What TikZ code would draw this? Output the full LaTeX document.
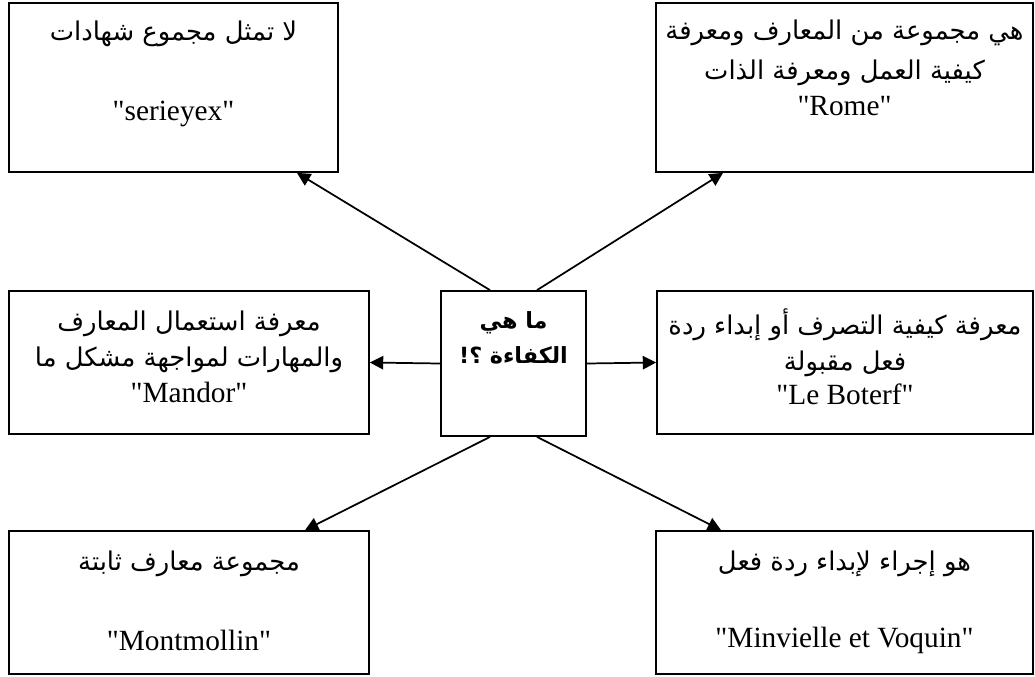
\documentclass[tikz,border=0pt]{standalone}
\usepackage{fontspec}
\newfontfamily\latinfont{Liberation Serif}
\newfontfamily\arabicfont[Script=Arabic,Scale=0.88]{DejaVu Sans}
\TeXXeTstate=1
\usetikzlibrary{positioning,arrows.meta}
\newcommand{\ar}[1]{{\arabicfont\beginR #1\endR}}

\begin{document}
\begin{tikzpicture}[x=0.75pt, y=-0.75pt,
                    box/.style 2 args={draw, line width=1.3pt, minimum width=#1, minimum height=#2, inner sep=0pt},
                    txt/.style={anchor=north, align=center, inner sep=0pt, font=\latinfont\fontsize{22}{27}\selectfont},
                    link/.style={line width=1.3pt, -{Triangle[length=10pt, width=10pt]}},
                ]
                \useasboundingbox (0,0) rectangle (1035,676);
                \node[box={108.75pt}{108.75pt}] (kifaya) at (513.5,363.5) {};
                \node[box={246.75pt}{126.75pt}] (serieyex) at (173.5,87.5) {};
                \node[box={282.75pt}{126.75pt}] (rome) at (844.5,87.5) {};
                \node[box={270pt}{107.25pt}] (mandor) at (189,362.5) {};
                \node[box={282pt}{107.25pt}] (boterf) at (845,362.5) {};
                \node[box={270pt}{107.25pt}] (montmollin) at (189,602.5) {};
                \node[box={282.75pt}{107.25pt}] (minvielle) at (844.5,602.5) {};
                \node[txt, font=\fontsize{19}{26}\selectfont\bfseries] (kifaya-t) at ([yshift=-16pt]kifaya.north) {\ar{ما هي}\\ \ar{الكفاءة ؟!}};
                \node[txt] (serieyex-t) at ([yshift=-14pt]serieyex.north) {\ar{لا تمثل مجموع شهادات}\\[33pt] "serieyex"};
                \node[txt] (rome-t) at ([yshift=-13pt]rome.north) {\ar{هي مجموعة من المعارف ومعرفة}\\[3pt] \ar{كيفية العمل ومعرفة الذات}\\ "Rome"};
                \node[txt] (mandor-t) at ([yshift=-15pt]mandor.north) {\ar{معرفة استعمال المعارف}\\ \ar{والمهارات لمواجهة مشكل ما}\\ "Mandor"};
                \node[txt] (boterf-t) at ([yshift=-14pt]boterf.north) {\ar{معرفة كيفية التصرف أو إبداء ردة}\\ \ar{فعل مقبولة}\\[-2pt] "Le Boterf"};
                \node[txt] (montmollin-t) at ([yshift=-15pt]montmollin.north) {\ar{مجموعة معارف ثابتة}\\[33pt] "Montmollin"};
                \node[txt] (minvielle-t) at ([yshift=-15pt]minvielle.north) {\ar{هو إجراء لإبداء ردة فعل}\\[31pt] "Minvielle et Voquin"};
                \draw[link] ([xshift=-17.6pt]kifaya.north) -- ([xshift=92.6pt]serieyex.south);
                \draw[link] ([xshift=17.6pt]kifaya.north) -- ([xshift=-91.1pt]rome.south);
                \draw[link] (kifaya.west) -- (mandor.east);
                \draw[link] (kifaya.east) -- (boterf.west);
                \draw[link] ([xshift=-17.6pt]kifaya.south) -- ([xshift=87pt]montmollin.north);
                \draw[link] ([xshift=17.6pt]kifaya.south) -- ([xshift=-92.6pt]minvielle.north);
\end{tikzpicture}
\end{document}
